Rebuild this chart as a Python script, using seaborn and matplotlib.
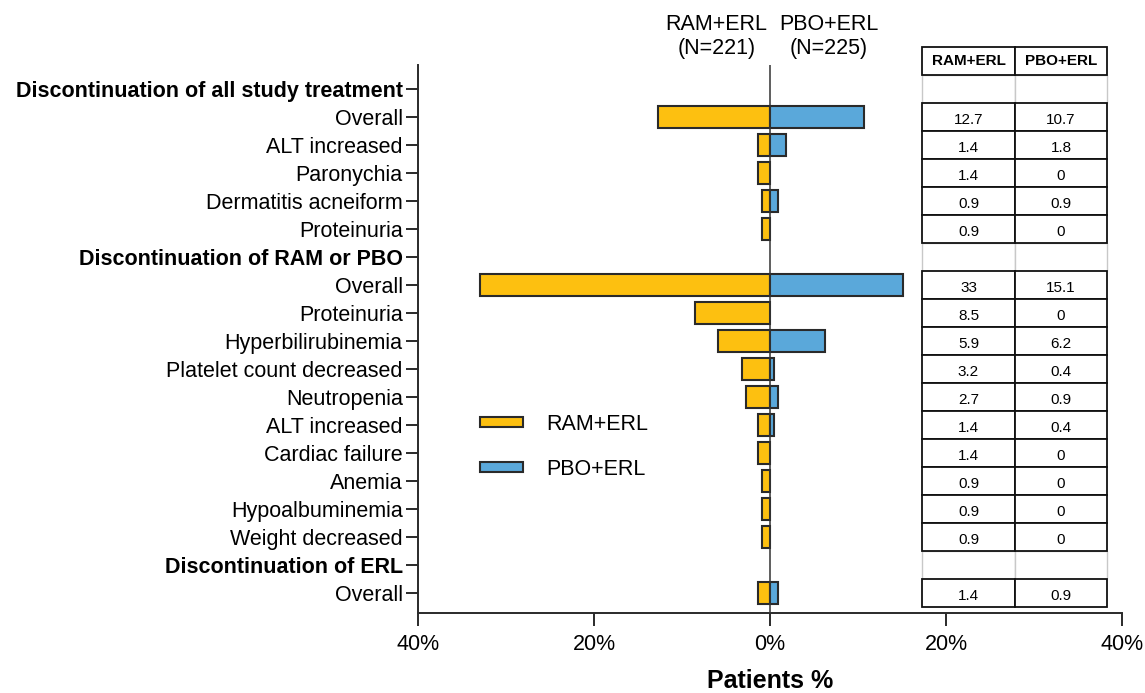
import matplotlib
matplotlib.use("Agg")
import matplotlib.pyplot as plt
from matplotlib.patches import Rectangle, Patch
import seaborn as sns
import pandas as pd

# ---------------- data ----------------
row_labels = [
    "Discontinuation of all study treatment",
    "Overall", "ALT increased", "Paronychia", "Dermatitis acneiform", "Proteinuria",
    "Discontinuation of RAM or PBO",
    "Overall", "Proteinuria", "Hyperbilirubinemia", "Platelet count decreased",
    "Neutropenia", "ALT increased", "Cardiac failure", "Anemia", "Hypoalbuminemia",
    "Weight decreased",
    "Discontinuation of ERL",
    "Overall",
]
is_header = [True, False, False, False, False, False, True,
             False, False, False, False, False, False, False, False, False, False,
             True, False]
ram_values = [None, 12.7, 1.4, 1.4, 0.9, 0.9, None,
              33, 8.5, 5.9, 3.2, 2.7, 1.4, 1.4, 0.9, 0.9, 0.9, None, 1.4]
pbo_values = [None, 10.7, 1.8, 0, 0.9, 0, None,
              15.1, 0, 6.2, 0.4, 0.9, 0.4, 0, 0, 0, 0, None, 0.9]
arms = ["RAM+ERL", "PBO+ERL"]
arm_headers = ["RAM+ERL\n(N=221)", "PBO+ERL\n(N=225)"]
x_ticks = [-40, -20, 0, 20, 40]
x_ticklabels = ["40%", "20%", "0%", "20%", "40%"]
colors = {"RAM+ERL": "#FDC010", "PBO+ERL": "#5AA8DA"}

n = len(row_labels)
keys = [f"r{i:02d}" for i in range(n)]
recs = []
for k, r, p in zip(keys, ram_values, pbo_values):
    if r is not None and r > 0:
        recs.append({"key": k, "value": -r, "arm": arms[0]})
    if p is not None and p > 0:
        recs.append({"key": k, "value": p, "arm": arms[1]})
df = pd.DataFrame(recs)

# ---------------- figure ----------------
sns.set_style("ticks")
plt.rcParams["font.family"] = ["Liberation Sans", "DejaVu Sans"]
for k in ["text.color", "axes.labelcolor", "xtick.labelcolor", "ytick.labelcolor"]:
    plt.rcParams[k] = "black"

W, H = 1145, 693
fig = plt.figure(figsize=(W / 100, H / 100), dpi=100)
ax = fig.add_axes([418 / W, 1 - 613 / H, (1122 - 418) / W, (613 - 65) / H])

sns.barplot(data=df, x="value", y="key", hue="arm", order=keys, hue_order=arms,
            palette=colors, dodge=False, width=0.78, orient="h", errorbar=None,
            saturation=1, edgecolor="#2a2a2a", linewidth=1.5, legend=False, ax=ax)

ax.axvline(0, color="#333333", lw=1.1, zorder=5)

ax.set_xlim(-40, 40)
ax.set_ylim(n - 1 + 0.714, -0.857)
ax.set_xticks(x_ticks)
ax.set_xticklabels(x_ticklabels, fontsize=15.5, color="black")
ax.set_yticks(range(n))
ax.set_yticklabels(row_labels, fontsize=15.5, color="black")
for lab, hdr in zip(ax.get_yticklabels(), is_header):
    if hdr:
        lab.set_fontweight("bold")
ax.set_ylabel("")
ax.set_xlabel("Patients %", fontsize=18, fontweight="bold", labelpad=10, color="black")

for s in ["top", "right"]:
    ax.spines[s].set_visible(False)
for s in ["left", "bottom"]:
    ax.spines[s].set_linewidth(1.4)
    ax.spines[s].set_color("#2a2a2a")
ax.tick_params(axis="y", length=9, width=1.4, pad=2, color="#2a2a2a")
ax.tick_params(axis="x", length=9, width=1.4, pad=6, color="#2a2a2a")

# arm headers above the plot
ax.text(-6.1, -1.87, arm_headers[0], ha="center", va="center", fontsize=15.5,
        linespacing=1.2, clip_on=False, color="black")
ax.text(6.7, -1.87, arm_headers[1], ha="center", va="center", fontsize=15.5,
        linespacing=1.2, clip_on=False, color="black")

# ---------------- table ----------------
col_edges = [17.27, 27.84, 38.3]
def cell(x0, x1, y, color, lw, z):
    ax.add_patch(Rectangle((x0, y - 0.5), x1 - x0, 1.0, facecolor="white",
                           edgecolor=color, lw=lw, clip_on=False, zorder=z))

# grey cells for section header rows
for i, hdr in enumerate(is_header):
    if hdr:
        for c in range(2):
            cell(col_edges[c], col_edges[c + 1], i, "#c8c8c8", 1.0, 6)
# column header
for c in range(2):
    cell(col_edges[c], col_edges[c + 1], -1, "#111111", 1.3, 7)
    ax.text((col_edges[c] + col_edges[c + 1]) / 2, -1, arms[c], ha="center",
            va="center", fontsize=11, fontweight="bold", clip_on=False, zorder=8)
# data cells
for i, hdr in enumerate(is_header):
    if hdr:
        continue
    vals = [ram_values[i], pbo_values[i]]
    for c in range(2):
        cell(col_edges[c], col_edges[c + 1], i, "#111111", 1.3, 7)
        ax.text((col_edges[c] + col_edges[c + 1]) / 2, i + 0.1, f"{vals[c]:g}",
                ha="center", va="center", fontsize=11, clip_on=False, zorder=8)

# ---------------- legend ----------------
handles = [Patch(facecolor=colors[a], edgecolor="#2a2a2a", linewidth=1.5, label=a)
           for a in arms]
ax.legend(handles=handles, loc="upper left", bbox_to_anchor=(480 / W, 1 - 414 / H),
          bbox_transform=fig.transFigure, frameon=False, fontsize=15.5,
          borderpad=0, borderaxespad=0, handlelength=2.0, handleheight=0.35,
          handletextpad=1.1, labelspacing=1.1)

fig.savefig("out.png", dpi=100)
